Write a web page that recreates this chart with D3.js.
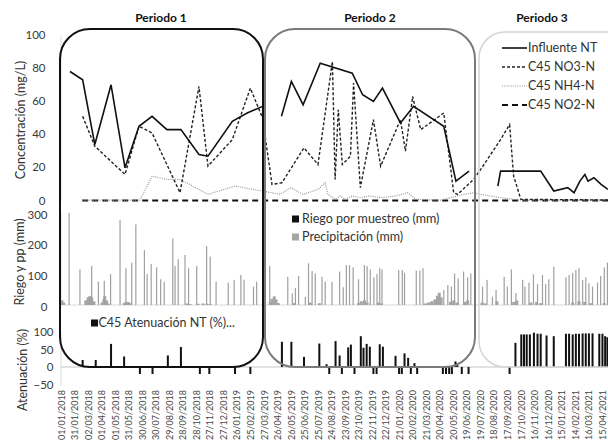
<!DOCTYPE html>
<html>
<head>
<meta charset="utf-8">
<script src="https://cdn.jsdelivr.net/npm/d3@7"></script>
<style>
  body { margin: 0; background: #fff; }
  text { font-family: Lato, "Open Sans", sans-serif; fill: #333; }
</style>
</head>
<body>
<div id="wrapper"></div>
<script>
const xTickLabels = ["01/01/2018","31/01/2018","02/03/2018","01/04/2018","01/05/2018","31/05/2018",
  "30/06/2018","30/07/2018","29/08/2018","28/09/2018","28/10/2018","27/11/2018","27/12/2018",
  "26/01/2019","25/02/2019","27/03/2019","26/04/2019","26/05/2019","25/06/2019","25/07/2019",
  "24/08/2019","23/09/2019","23/10/2019","22/11/2019","22/12/2019","21/01/2020","20/02/2020",
  "21/03/2020","20/04/2020","20/05/2020","19/06/2020","19/07/2020","18/08/2020","17/09/2020",
  "17/10/2020","16/11/2020","16/12/2020","15/01/2021","14/02/2021","16/03/2021","15/04/2021"]

const periods = ["Periodo 1", "Periodo 2", "Periodo 3"]

const concTicks = [0, 20, 40, 60, 80, 100]
const riegoTicks = [0, 100, 200, 300]
const atenTicks = [-50, 0, 50, 100]

// Concentración (mg/L)
const influenteNT = [
  ["2018-01-21",78],["2018-02-18",73],["2018-03-17",34],["2018-04-22",70],["2018-05-23",20],
  ["2018-06-23",45],["2018-07-22",51],["2018-08-24",43],["2018-09-24",43],["2018-11-03",28],
  ["2018-11-23",27],["2019-01-16",48],["2019-02-18",53],["2019-03-24",57],
  ["2019-04-15",null],
  ["2019-05-05",51],["2019-05-27",72],["2019-06-22",58],["2019-07-30",83],["2019-10-09",77],
  ["2019-11-01",64],["2019-11-25",60],["2019-12-15",68],["2020-01-24",47],["2020-02-22",57],
  ["2020-04-29",45],["2020-05-26",12],["2020-06-24",18],
  ["2020-07-20",null],
  ["2020-08-27",9],["2020-09-02",18],["2020-11-30",18],["2020-12-29",6],["2021-01-29",8],
  ["2021-02-12",5],["2021-02-25",12],["2021-03-08",16],["2021-03-15",12],["2021-03-28",14],
  ["2021-04-13",10],["2021-04-28",7]
]

const c45NO3 = [
  ["2018-02-18",51],["2018-03-17",33],["2018-05-23",16],["2018-06-23",45],["2018-07-22",41],
  ["2018-09-22",5],["2018-11-03",69],["2018-11-23",21],["2019-01-16",37],["2019-02-25",68],
  ["2019-03-24",50],["2019-04-14",10],["2019-05-06",11],["2019-06-24",32],["2019-07-25",22],
  ["2019-08-26",84],["2019-09-01",13],["2019-09-08",55],["2019-09-17",22],["2019-10-05",27],
  ["2019-10-12",71],["2019-10-27",8],["2019-11-25",49],["2019-12-11",21],["2020-01-24",49],
  ["2020-02-04",30],["2020-02-20",63],["2020-02-27",55],["2020-03-09",43],["2020-04-29",53],
  ["2020-05-21",5],["2020-05-30",4],["2020-07-04",13],["2020-07-20",19],["2020-09-02",37],
  ["2020-09-22",46],["2020-10-01",15],["2020-10-17",1],["2021-05-01",0.6]
]

const c45NH4 = [
  ["2018-02-17",0.5],["2018-06-25",0.5],["2018-07-22",15],["2018-08-24",13],["2018-09-23",13],
  ["2018-11-23",4],["2019-01-22",9],["2019-03-24",6],["2019-05-02",4],["2019-05-25",8],
  ["2019-06-22",4],["2019-07-25",7],["2019-08-10",11],["2019-08-16",4],["2019-09-02",1],
  ["2019-09-13",3],["2019-09-24",1],["2019-10-09",3],["2019-10-27",2],["2019-11-18",3],
  ["2019-12-11",2],["2020-01-13",3],["2020-02-09",5],["2020-02-27",1],["2020-04-22",0.5],
  ["2020-06-12",4],["2020-07-04",5],["2020-07-20",4],["2020-09-02",2],["2020-10-17",0.5],
  ["2021-05-01",0.5]
]

const c45NO2 = [["2018-02-17",0.3],["2021-05-01",0.3]]

// Riego y pp (mm)
const riegoMuestreo = [
  ["2018-01-19",300],["2018-02-12",116],["2018-03-10",127],["2018-03-25",76],["2018-04-07",79],
  ["2018-04-21",101],["2018-05-12",277],["2018-05-25",120],["2018-06-07",138],["2018-06-16",263],
  ["2018-07-05",179],["2018-07-11",101],["2018-07-20",134],["2018-08-01",123],["2018-08-10",84],
  ["2018-08-18",76],["2018-09-06",217],["2018-09-11",127],["2018-09-18",149],["2018-10-03",163],
  ["2018-10-11",120],["2018-10-29",127],["2018-11-20",192],["2018-11-28",158],["2018-12-11",76],
  ["2019-01-07",73],["2019-01-20",82],["2019-02-04",98],["2019-02-11",82],["2019-03-04",60],
  ["2019-03-11",76],["2019-04-09",127],["2019-05-19",92],["2019-05-29",38],["2019-06-05",56],
  ["2019-06-12",95],["2019-06-27",27],["2019-07-04",136],["2019-07-12",111],["2019-07-19",103],
  ["2019-08-03",92],["2019-08-10",76],["2019-08-25",76],["2019-09-11",109],["2019-09-19",58],
  ["2019-09-26",130],["2019-10-03",130],["2019-10-11",123],["2019-10-23",84],["2019-11-05",130],
  ["2019-11-11",127],["2019-11-18",116],["2019-11-26",90],["2019-12-03",101],["2019-12-09",120],
  ["2019-12-14",116],["2020-01-20",114],["2020-01-28",114],["2020-02-02",105],["2020-02-28",112],
  ["2020-03-07",112],["2020-03-14",120],["2020-04-29",49],["2020-05-08",65],["2020-05-16",60],
  ["2020-05-23",103],["2020-05-31",87],["2020-06-12",109],["2020-06-21",90],["2020-06-28",103],
  ["2020-07-24",60],["2020-08-03",82],["2020-08-15",27],["2020-08-23",49],["2020-09-10",92],
  ["2020-09-17",60],["2020-09-26",116],["2020-10-06",39],["2020-10-21",82],["2020-10-26",60],
  ["2020-11-04",73],["2020-11-14",100],["2020-11-23",68],["2020-12-04",98],["2020-12-11",68],
  ["2020-12-18",84],["2020-12-29",125],["2021-01-25",90],["2021-02-01",98],["2021-02-09",105],
  ["2021-02-16",114],["2021-02-23",120],["2021-03-03",82],["2021-03-10",90],["2021-03-17",71],
  ["2021-03-25",60],["2021-04-05",73],["2021-04-12",95],["2021-04-20",123],["2021-04-27",138]
]

const precipitacion = [
  ["2018-01-03",15],["2018-01-07",8],
  ["2018-02-25",15],["2018-03-02",25],["2018-03-06",29],["2018-03-10",25],["2018-03-15",12],
  ["2018-04-02",8],["2018-04-06",18],["2018-04-08",29],["2018-04-12",15],["2018-04-15",5],
  ["2018-05-21",6],["2018-05-25",10],["2018-05-30",10],["2018-06-03",6],
  ["2018-10-08",5],["2018-10-14",3],["2018-11-01",4],["2018-11-12",5],["2018-11-21",4],["2018-11-28",3],
  ["2019-04-10",10],["2019-04-14",20],["2019-04-19",28],["2019-04-23",18],["2019-04-28",6],
  ["2019-06-03",6],["2019-07-08",8],["2019-07-28",6],
  ["2019-10-23",6],["2019-10-29",12],["2019-11-05",15],["2019-11-11",8],
  ["2019-12-06",8],["2019-12-13",5],
  ["2020-03-19",5],["2020-03-26",8],["2020-04-02",12],["2020-04-09",18],["2020-04-15",30],
  ["2020-04-19",40],["2020-04-23",25],
  ["2020-05-14",10],["2020-05-21",15],["2020-05-28",8],["2020-06-14",10],["2020-06-21",15],
  ["2020-07-23",8],["2020-07-30",5],["2020-08-25",12],["2020-10-01",10],["2020-10-08",15],
  ["2020-11-08",8],["2020-11-21",10],["2020-11-30",6],
  ["2021-02-09",8],["2021-02-23",12],["2021-03-08",10],["2021-03-21",6],["2021-04-20",6]
]

// Atenuación (%)
const c45Atenuacion = [
  ["2018-02-18",20],["2018-03-19",20],["2018-04-22",66],["2018-05-21",30],["2018-06-25",-20],
  ["2018-07-23",-20],["2018-08-26",33],["2018-09-24",57],["2018-11-05",-20],["2018-11-26",-20],
  ["2019-01-22",-20],["2019-02-25",-20],
  ["2019-05-06",72],["2019-05-27",72],["2019-06-24",29],["2019-07-28",67],["2019-08-13",8],
  ["2019-08-19",-20],["2019-09-02",74],["2019-09-11",33],["2019-09-16",-20],["2019-09-30",56],
  ["2019-10-06",64],["2019-10-14",-20],["2019-10-28",88],["2019-11-03",55],["2019-11-10",66],
  ["2019-11-17",58],["2019-11-25",-20],["2019-12-02",-20],["2019-12-09",65],["2019-12-16",58],
  ["2020-01-13",32],["2020-01-21",-20],["2020-01-27",-20],["2020-02-02",39],["2020-02-10",26],
  ["2020-02-16",-20],["2020-02-24",11],["2020-03-01",-20],["2020-04-27",-20],["2020-05-04",-20],
  ["2020-05-11",-20],["2020-05-17",-20],["2020-05-25",16],["2020-05-29",10],["2020-06-08",-20],
  ["2020-06-23",-20],
  ["2020-09-22",-20],["2020-10-05",69],["2020-10-18",93],["2020-10-24",93],["2020-10-30",93],
  ["2020-11-06",93],["2020-11-15",98],["2020-11-23",95],["2020-11-30",95],["2020-12-13",90],
  ["2020-12-29",88],["2021-01-25",95],["2021-02-01",95],["2021-02-09",93],["2021-02-16",95],
  ["2021-02-23",95],["2021-03-03",96],["2021-03-10",96],["2021-03-17",96],["2021-03-25",96],
  ["2021-04-09",95],["2021-04-16",95],["2021-04-22",88],["2021-04-27",85]
]

const parseDate = d3.timeParse("%Y-%m-%d")
const parseTick = d3.timeParse("%d/%m/%Y")
const dateAccessor = d => parseDate(d[0])
const valueAccessor = d => d[1]

const width = 608
const height = 442

const svg = d3.select("#wrapper")
  .append("svg")
    .attr("width", width)
    .attr("height", height)

const xScale = d3.scaleTime()
  .domain([parseTick(xTickLabels[0]), parseTick(xTickLabels[xTickLabels.length - 1])])
  .range([61, 602])

const yConc = d3.scaleLinear().domain([0, 100]).range([201, 35])
const yRiego = d3.scaleLinear().domain([0, 300]).range([305, 213])
const yAten = d3.scaleLinear().domain([-50, 100]).range([384.5, 332])

// y axes
function drawYAxis(scale, ticks, padding, dy) {
  const g = svg.append("g")
    .attr("transform", "translate(60.5,0)")
    .call(d3.axisLeft(scale).tickValues(ticks).tickSize(0).tickPadding(padding))
  g.select(".domain").attr("stroke", "#d9d9d9").attr("stroke-width", 1)
  g.selectAll("text")
    .attr("dy", dy)
    .style("font-size", "11.5px").style("fill", "#3a3a3a")
    .style("font-family", "Lato, sans-serif")
  return g
}
drawYAxis(yConc, concTicks, 15, "0.26em")
drawYAxis(yRiego, riegoTicks, 13, "0.44em")
drawYAxis(yAten, atenTicks, 7, "0.32em")

// axis titles
const titles = [
  {text: "Concentración (mg/L)", x: 21, y: 120},
  {text: "Riego y pp (mm)", x: 20, y: 262},
  {text: "Atenuación (%)", x: 23, y: 370}
]
svg.selectAll(".ytitle")
  .data(titles)
  .enter().append("text")
    .attr("class", "ytitle")
    .attr("transform", d => `translate(${d.x},${d.y}) rotate(-90)`)
    .attr("text-anchor", "middle")
    .attr("dy", "0.35em")
    .style("font-size", "12.5px")
    .text(d => d.text)

// x axis (date labels)
const xAxis = svg.append("g")
  .attr("transform", "translate(0,390)")
  .call(d3.axisBottom(xScale)
    .tickValues(xTickLabels.map(parseTick))
    .tickFormat(d3.timeFormat("%d/%m/%Y"))
    .tickSize(0))
xAxis.select(".domain").remove()
xAxis.selectAll("text")
  .attr("x", 0)
  .attr("y", 0)
  .attr("dy", "0.35em")
  .attr("transform", "rotate(-90)")
  .style("text-anchor", "end")
  .style("font-size", "9px")
  .style("fill", "#444")

// baselines
svg.append("line")
  .attr("x1", 61).attr("x2", width)
  .attr("y1", yRiego(0)).attr("y2", yRiego(0))
  .attr("stroke", "#d9d9d9")
svg.append("line")
  .attr("x1", 61).attr("x2", width)
  .attr("y1", yAten(0)).attr("y2", yAten(0))
  .attr("stroke", "#d9d9d9").attr("stroke-width", 1.5)

// precipitation & riego bars
svg.append("g").selectAll("rect")
  .data(precipitacion)
  .enter().append("rect")
    .attr("x", d => xScale(dateAccessor(d)) - 1.5)
    .attr("width", 3)
    .attr("y", d => yRiego(valueAccessor(d)))
    .attr("height", d => yRiego(0) - yRiego(valueAccessor(d)))
    .attr("fill", "#a5a5a5")

svg.append("g").selectAll("rect")
  .data(riegoMuestreo)
  .enter().append("rect")
    .attr("x", d => xScale(dateAccessor(d)) - 0.6)
    .attr("width", 1.2)
    .attr("y", d => yRiego(valueAccessor(d)))
    .attr("height", d => yRiego(0) - yRiego(valueAccessor(d)))
    .attr("fill", "#a0a0a0")

// atenuación bars
svg.append("g").selectAll("rect")
  .data(c45Atenuacion)
  .enter().append("rect")
    .attr("x", d => xScale(dateAccessor(d)) - 1)
    .attr("width", 2)
    .attr("y", d => yAten(Math.max(0, valueAccessor(d))))
    .attr("height", d => Math.abs(yAten(valueAccessor(d)) - yAten(0)))
    .attr("fill", "#111")

// concentration lines
const series = [
  {name: "Influente NT", data: influenteNT, color: "#111", width: 1.6, dash: null},
  {name: "C45 NO3-N", data: c45NO3, color: "#222", width: 1.4, dash: "3,2"},
  {name: "C45 NH4-N", data: c45NH4, color: "#999", width: 1.2, dash: "1,1.2"},
  {name: "C45 NO2-N", data: c45NO2, color: "#111", width: 2, dash: "6,4"}
]

const lineGenerator = d3.line()
  .defined(d => valueAccessor(d) != null)
  .x(d => xScale(dateAccessor(d)))
  .y(d => yConc(valueAccessor(d)))

svg.append("g").selectAll("path")
  .data(series.slice().reverse())
  .enter().append("path")
    .attr("d", d => lineGenerator(d.data))
    .attr("fill", "none")
    .attr("stroke", d => d.color)
    .attr("stroke-width", d => d.width)
    .attr("stroke-dasharray", d => d.dash)

// period boxes
const boxes = [
  {x: 60, y: 29, w: 203, h: 338, r: 30, color: "#111", sw: 2},
  {x: 265, y: 29, w: 210, h: 338, r: 30, color: "#7a7a7a", sw: 2},
  {x: 479, y: 32, w: 170, h: 335, r: 26, color: "#d4d4d4", sw: 1.5}
]
svg.append("g").selectAll("rect")
  .data(boxes)
  .enter().append("rect")
    .attr("x", d => d.x).attr("y", d => d.y)
    .attr("width", d => d.w).attr("height", d => d.h)
    .attr("rx", d => d.r)
    .attr("fill", "none")
    .attr("stroke", d => d.color)
    .attr("stroke-width", d => d.sw)

svg.selectAll(".period")
  .data(periods)
  .enter().append("text")
    .attr("class", "period")
    .attr("x", (d, i) => [161, 370, 542][i])
    .attr("y", 22)
    .attr("text-anchor", "middle")
    .style("font-size", "12px")
    .style("font-weight", "bold")
    .style("fill", "#111")
    .text(d => d)

// legend: concentration
const legend = svg.append("g").attr("transform", "translate(502,48)")
const rows = legend.selectAll("g")
  .data(series)
  .enter().append("g")
    .attr("transform", (d, i) => `translate(0,${i * 19})`)
rows.append("line")
  .attr("x1", 0).attr("x2", 25)
  .attr("stroke", d => d.color)
  .attr("stroke-width", d => d.width)
  .attr("stroke-dasharray", d => d.dash)
rows.append("text")
  .attr("x", 26)
  .attr("dy", "0.35em")
  .style("font-size", "12.5px")
  .text(d => d.name)

// legend: riego / precipitación
const barLegend = [
  {name: "Riego por muestreo (mm)", color: "#111"},
  {name: "Precipitación (mm)", color: "#a5a5a5"}
]
const bl = svg.append("g").attr("transform", "translate(292,219)")
  .selectAll("g")
  .data(barLegend)
  .enter().append("g")
    .attr("transform", (d, i) => `translate(0,${i * 18})`)
bl.append("rect").attr("x", 0).attr("y", -3.5).attr("width", 7).attr("height", 7)
  .attr("fill", d => d.color)
bl.append("text").attr("x", 10).attr("dy", "0.35em")
  .style("font-size", "12.5px")
  .text(d => d.name)

// legend: atenuación
const al = svg.append("g").attr("transform", "translate(91,323)")
al.append("rect").attr("x", 0).attr("y", -3.5).attr("width", 7).attr("height", 7).attr("fill", "#111")
al.append("text").attr("x", 7.5).attr("dy", "0.35em")
  .style("font-size", "12.5px")
  .text("C45 Atenuación NT (%)...")
</script>
</body>
</html>
